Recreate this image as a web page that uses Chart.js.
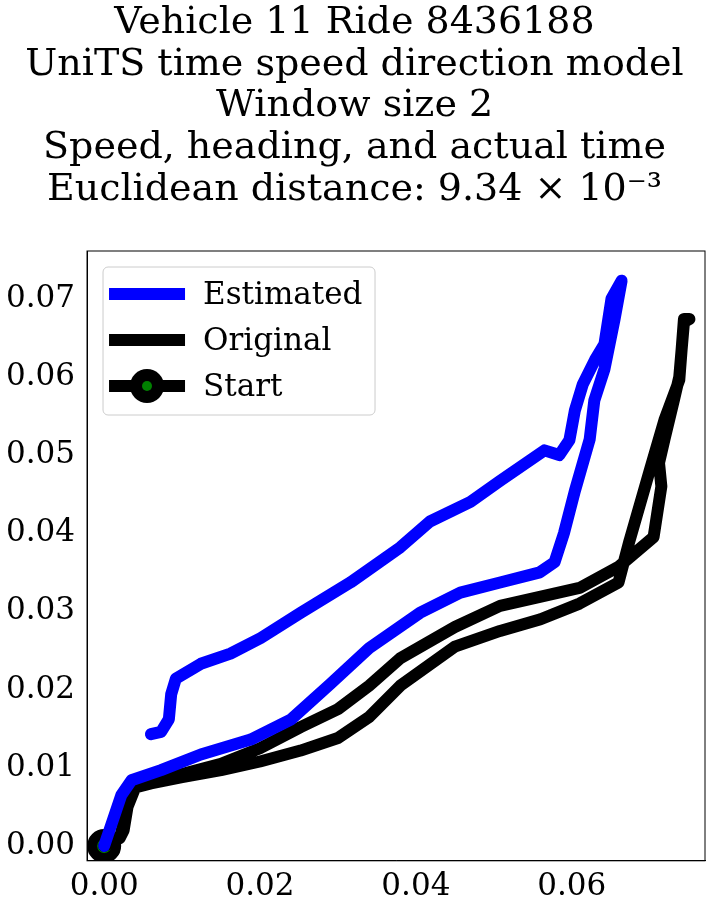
<!DOCTYPE html>
<html><head><meta charset="utf-8">
<script src="https://cdn.jsdelivr.net/npm/chart.js@4"></script>
<style>body{margin:0;background:#fff}#wrap{width:727px;height:916px}</style>
</head><body><div id="wrap"><canvas id="grafica"></canvas></div>
<script>
const titleLines = ['Vehicle 11 Ride 8436188', 'UniTS time speed direction model', 'Window size 2',
    'Speed, heading, and actual time', 'Euclidean distance: 9.34 × 10⁻³'];

const estimadoX = [0, 0.0022, 0.0035, 0.0073, 0.0124, 0.0188, 0.024, 0.029, 0.034, 0.0405, 0.0457, 0.0508, 0.0559, 0.0578, 0.059, 0.0604, 0.0623, 0.0629, 0.0642, 0.0655, 0.0664,
    0.0651, 0.0642, 0.063, 0.0614, 0.0604, 0.0597, 0.0584, 0.0565, 0.0508, 0.047, 0.0418, 0.038, 0.0316, 0.0252, 0.0201, 0.0162, 0.0124, 0.0092, 0.0086, 0.0083, 0.0073, 0.006];
const estimadoY = [0, 0.0065, 0.0084, 0.0097, 0.0117, 0.0136, 0.0162, 0.0207, 0.0253, 0.0298, 0.0324, 0.0337, 0.035, 0.0363, 0.040, 0.0454, 0.052, 0.057, 0.061, 0.0674, 0.0723,
    0.070, 0.0642, 0.0622, 0.059, 0.0557, 0.0519, 0.050, 0.0506, 0.0467, 0.044, 0.0415, 0.0382, 0.0337, 0.0298, 0.0266, 0.0246, 0.0233, 0.0214, 0.0194, 0.0162, 0.0146, 0.0143];

const originalX = [0, 0.002, 0.0025, 0.003, 0.004, 0.006, 0.01, 0.015, 0.02, 0.0252, 0.03, 0.034, 0.038, 0.045, 0.0508, 0.056, 0.061, 0.066, 0.0674, 0.070, 0.0719, 0.0738, 0.0744, 0.0751,
    0.0744, 0.0738, 0.0731, 0.0719, 0.0712, 0.0715, 0.0705, 0.066, 0.061, 0.0508, 0.045, 0.038, 0.034, 0.030, 0.0252, 0.02, 0.015, 0.01, 0.006, 0.004, 0.003, 0.0025, 0.002];
const originalY = [0, 0.001, 0.003, 0.006, 0.0075, 0.008, 0.0088, 0.0097, 0.0108, 0.0122, 0.0138, 0.0165, 0.0205, 0.0255, 0.0275, 0.029, 0.031, 0.0337, 0.039, 0.048, 0.0545, 0.0596, 0.0674, 0.0674,
    0.067, 0.060, 0.057, 0.052, 0.049, 0.046, 0.0395, 0.0357, 0.033, 0.0307, 0.028, 0.024, 0.0205, 0.0175, 0.0152, 0.0125, 0.0105, 0.0092, 0.0083, 0.0075, 0.005, 0.002, 0.001];

const toPoints = (xs, ys) => xs.map((x, i) => ({ x: x, y: ys[i] }));

const legendItems = [
    { label: 'Estimated', color: '#0000ff', marker: false },
    { label: 'Original', color: '#000000', marker: false },
    { label: 'Start', color: '#000000', marker: true },
];

// leyenda dibujada a mano, estilo matplotlib
const legendPlugin = {
    id: 'mplLegend',
    afterDraw(chart) {
        const ctx = chart.ctx;
        const area = chart.chartArea;
        const x0 = area.left + 16, y0 = area.top + 16;
        ctx.save();
        ctx.fillStyle = 'rgba(255,255,255,0.8)';
        ctx.strokeStyle = '#cccccc';
        ctx.lineWidth = 1;
        ctx.beginPath();
        ctx.roundRect(x0, y0, 272, 148, 5);
        ctx.fill();
        ctx.stroke();
        ctx.font = '31px "DejaVu Serif"';
        ctx.textBaseline = 'middle';
        legendItems.forEach((it, i) => {
            const y = y0 + 27 + i * 46;
            ctx.strokeStyle = it.color;
            ctx.lineWidth = 12;
            ctx.beginPath();
            ctx.moveTo(x0 + 6, y);
            ctx.lineTo(x0 + 82, y);
            ctx.stroke();
            if (it.marker) {
                ctx.fillStyle = '#000';
                ctx.beginPath(); ctx.arc(x0 + 44, y, 17, 0, Math.PI * 2); ctx.fill();
                ctx.fillStyle = 'green';
                ctx.beginPath(); ctx.arc(x0 + 44, y, 5, 0, Math.PI * 2); ctx.fill();
            }
            ctx.fillStyle = '#000';
            ctx.fillText(it.label, x0 + 100, y + 2);
        });
        ctx.restore();
    }
};

const frame = {
    id: 'frame',
    afterDatasetsDraw(chart) {
        const a = chart.chartArea, ctx = chart.ctx;
        ctx.save();
        ctx.strokeStyle = '#000'; ctx.lineWidth = 1;
        ctx.strokeRect(a.left, a.top, a.right - a.left, a.bottom - a.top);
        ctx.restore();
    }
};

const tickFont = { family: 'DejaVu Serif', size: 31 };

new Chart(document.getElementById('grafica'), {
    type: 'scatter',
    data: {
        datasets: [
            { label: 'Estimated', data: toPoints(estimadoX, estimadoY), showLine: true, borderColor: '#0000ff',
              borderWidth: 12, pointRadius: 0, borderJoinStyle: 'round', borderCapStyle: 'round' },
            { label: 'Original', data: toPoints(originalX, originalY), showLine: true, borderColor: '#000000',
              borderWidth: 12, pointRadius: 0, borderJoinStyle: 'round', borderCapStyle: 'round' },
            { label: 'Start', data: [{ x: 0, y: 0 }], pointRadius: 12, borderWidth: 10,
              backgroundColor: 'green', borderColor: '#000' },
        ]
    },
    options: {
        responsive: true,
        maintainAspectRatio: false,
        animation: false,
        layout: { padding: { top: 0, right: 20, left: 2, bottom: 10 } },
        plugins: {
            legend: { display: false },
            tooltip: { enabled: false },
            title: {
                display: true, text: titleLines, color: '#000',
                font: { family: 'DejaVu Serif', size: 38, weight: 'normal', lineHeight: 1.1 },
                padding: { top: 2, bottom: 40 }
            }
        },
        scales: {
            x: {
                min: -0.0022, max: 0.0771,
                grid: { display: false, drawTicks: true, tickLength: 8, tickColor: '#000' },
                border: { color: '#000' },
                ticks: { color: '#000', font: tickFont, stepSize: 0.02, padding: 0,
                         callback: v => v.toFixed(2) },
                afterBuildTicks: s => { s.ticks = [0, 0.02, 0.04, 0.06].map(v => ({ value: v })); }
            },
            y: {
                min: -0.0019, max: 0.0761,
                grid: { display: false, drawTicks: true, tickLength: 8, tickColor: '#000' },
                border: { color: '#000' },
                ticks: { color: '#000', font: tickFont, padding: 4, callback: v => v.toFixed(2) },
                afterBuildTicks: s => { s.ticks = [0, 0.01, 0.02, 0.03, 0.04, 0.05, 0.06, 0.07].map(v => ({ value: v })); }
            }
        }
    },
    plugins: [frame, legendPlugin]
});
</script></body></html>
